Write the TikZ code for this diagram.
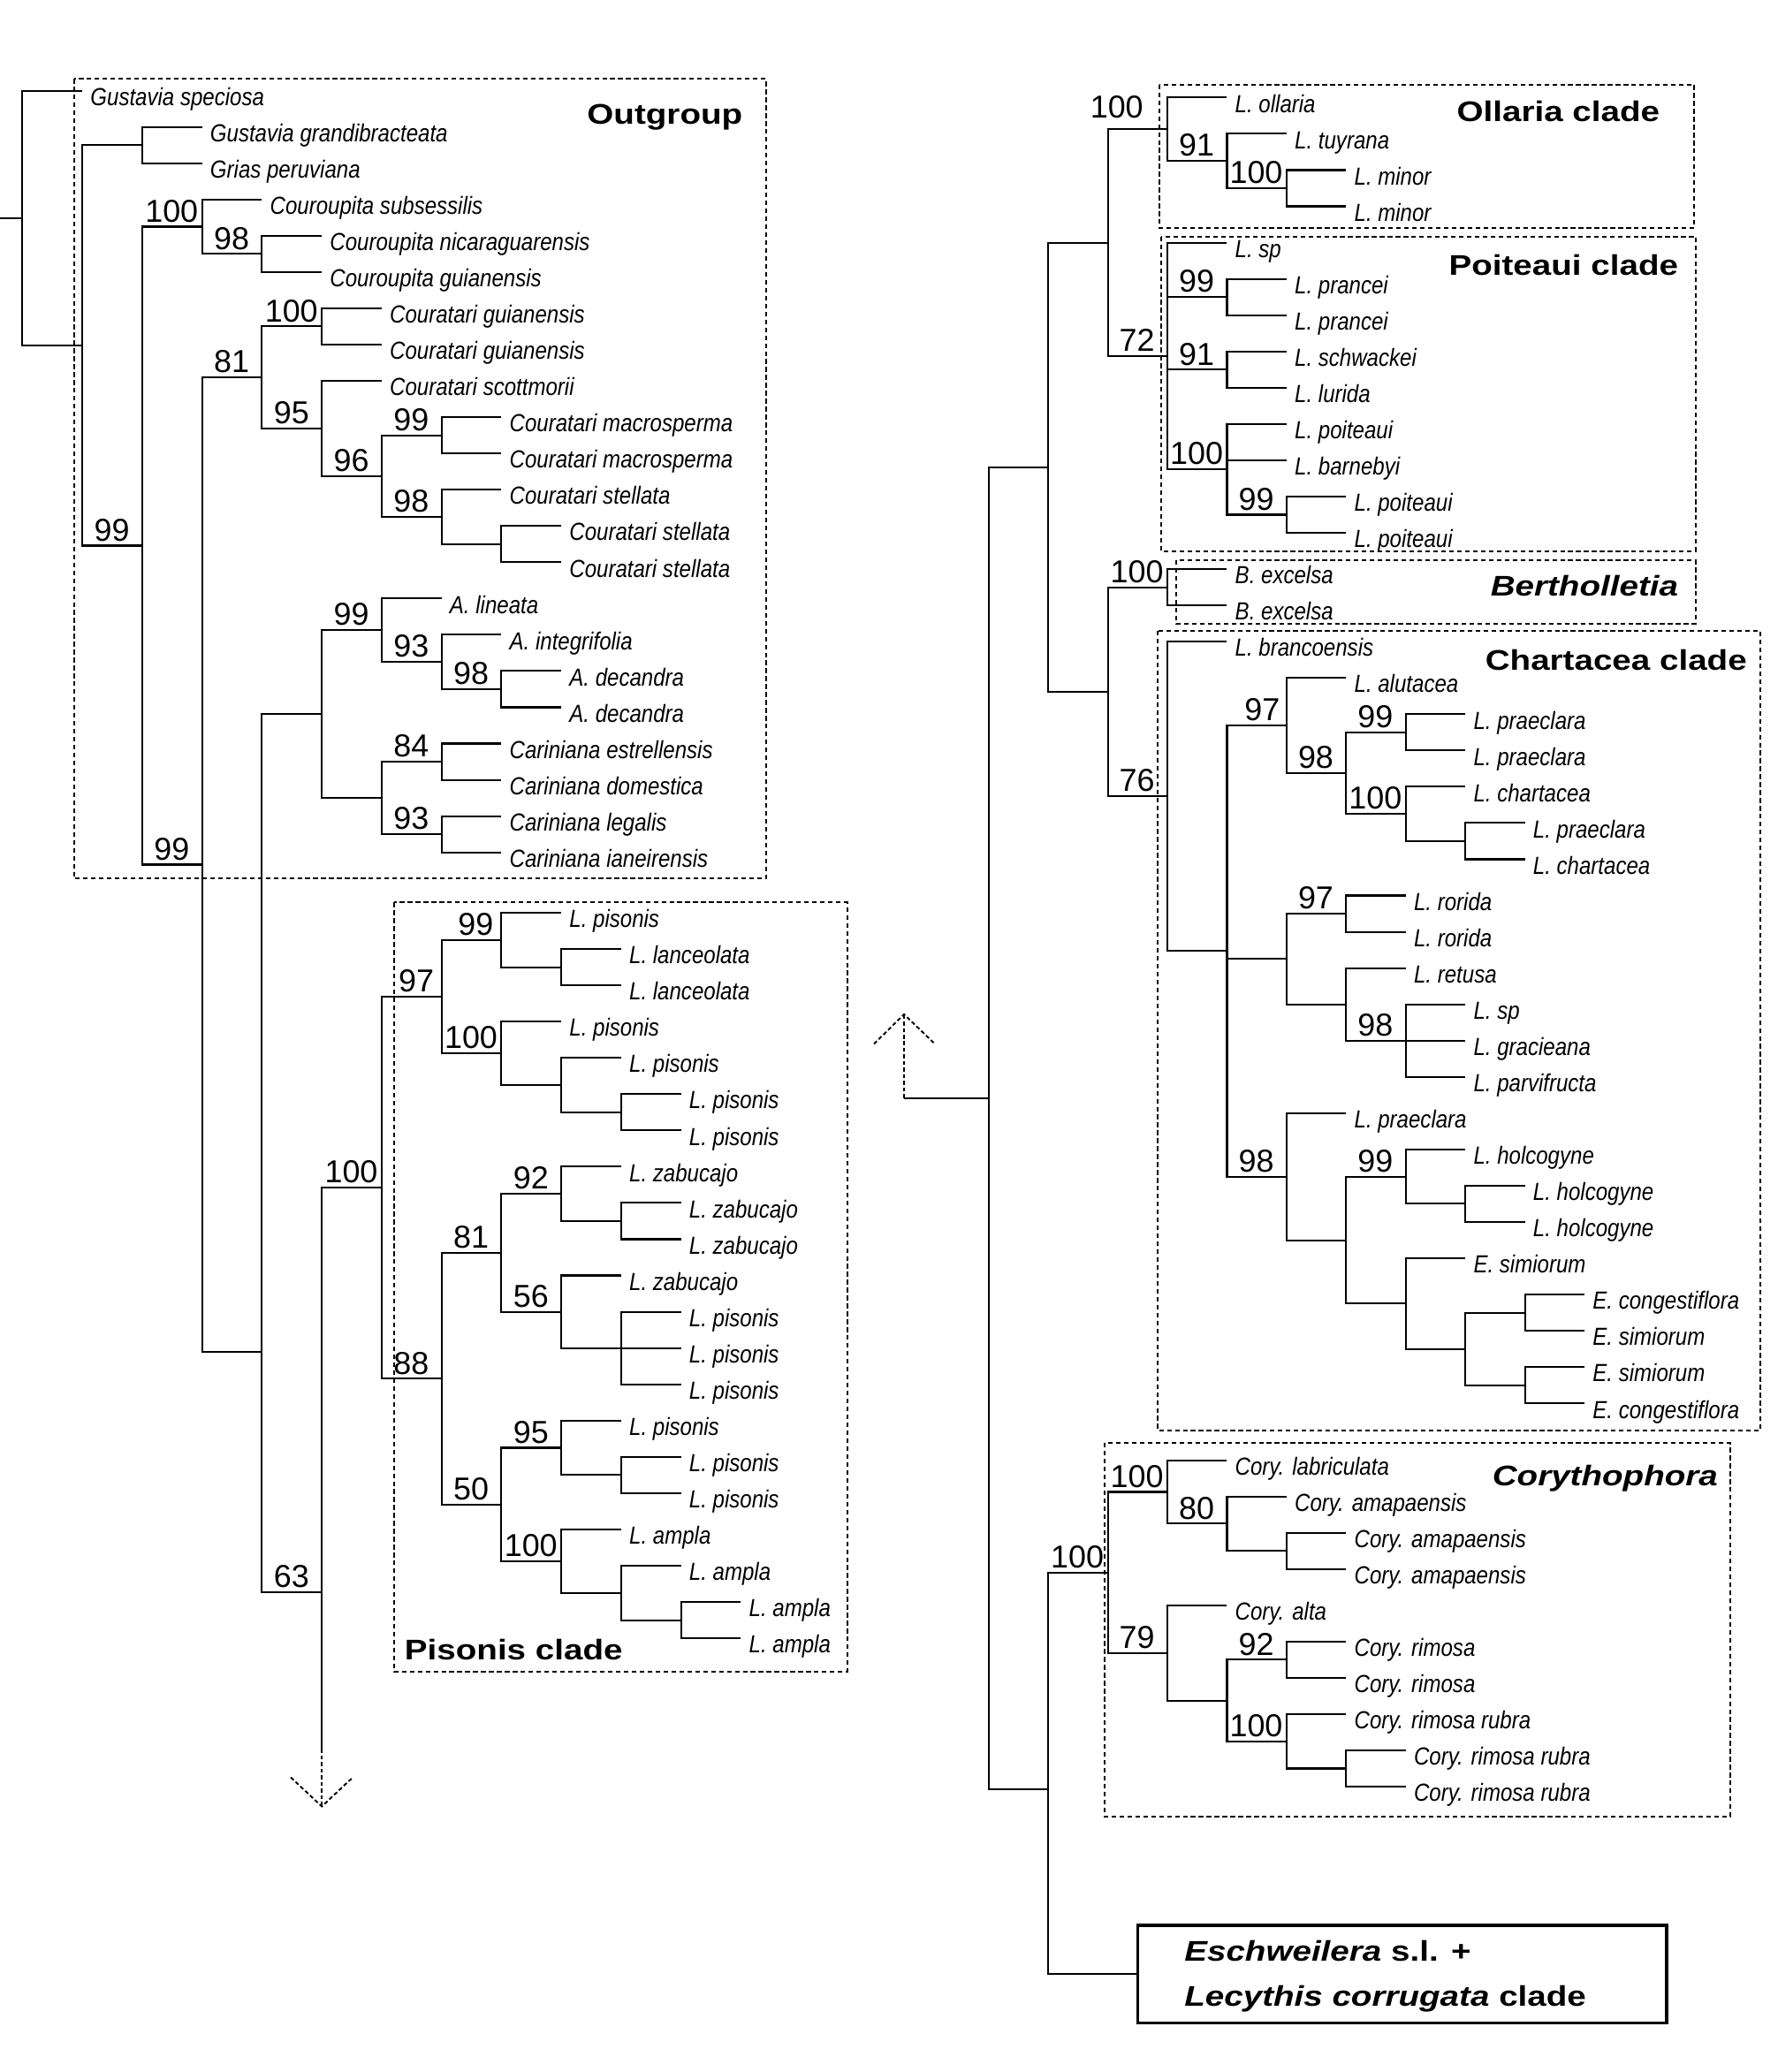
\documentclass[tikz,border=0pt]{standalone}
\usepackage{fontspec}
\usetikzlibrary{calc}
\newfontfamily\labfont[FakeStretch=0.86]{Liberation Sans}
\newfontfamily\numfont{Liberation Sans}
\newfontfamily\ttlfont[FakeStretch=1.2]{Liberation Sans}
\newcommand\tnode[3]{\coordinate (#1) at (#2,#3);}
\newcommand\tleaf[4]{\coordinate (#1) at (#2,#3);\node[leaf] (#1t) at (#2+6,#3+11.2) {#4};}
\newcommand\tedges[2]{\foreach \chd in {#2}{\draw[br] (#1) |- (\chd);}}
\newcommand\tboot[2]{\node[bs] (#1b) at ($(#1)+(-23,-3.5)$) {#2};}
\begin{document}
\begin{tikzpicture}[x=1pt,y=-1pt,
  br/.style={line width=1.4pt},
  dsh/.style={line width=1.3pt,dash pattern=on 3pt off 2pt},
  cbox/.style={line width=1.3pt,dash pattern=on 3.5pt off 2.5pt},
  leaf/.style={font={\labfont\itshape\fontsize{18.7}{20}\selectfont},inner sep=0pt,anchor=base west},
  bs/.style={font={\numfont\fontsize{24}{26}\selectfont},inner sep=0pt,anchor=base},
  ttl/.style={font={\ttlfont\bfseries\fontsize{21.5}{24}\selectfont},inner sep=0pt}]
\fill[white] (0,0) rectangle (1345,1568);
\useasboundingbox (0,0) rectangle (1345,1568);

% ---------- boxes ----------
\draw[cbox] (56,59.7) rectangle (579.6,664.7);
\draw[cbox] (298,683) rectangle (641,1265);
\draw[cbox] (877,64) rectangle (1282,172.5);
\draw[cbox] (878.5,179) rectangle (1283,417);
\draw[cbox] (890,424) rectangle (1283,472);
\draw[cbox] (876,477.5) rectangle (1332,1082.5);
\draw[cbox] (836,1092) rectangle (1309,1375);
\node[draw,line width=2.4pt,minimum width=400pt,minimum height=74pt,inner sep=0pt] (esch) at (1061,1494) {};

% ---------- titles ----------
\node[ttl,anchor=base east] (tOut) at (562,94) {Outgroup};
\node[ttl,anchor=base west] (tPis) at (306,1256) {Pisonis clade};
\node[ttl,anchor=base east] (tOll) at (1256,92) {Ollaria clade};
\node[ttl,anchor=base east] (tPoi) at (1270,208) {Poiteaui clade};
\node[ttl,anchor=base east] (tBer) at (1270,451) {\itshape Bertholletia};
\node[ttl,anchor=base east] (tCha) at (1322,507) {Chartacea clade};
\node[ttl,anchor=base east] (tCor) at (1300,1124) {\itshape Corythophora};
\node[ttl,anchor=base west] (eA) at (896,1484) {\textit{Eschweilera} s.l. +};
\node[ttl,anchor=base west] (eB) at (896,1518) {\textit{Lecythis corrugata} clade};

% ---------- left tree ----------
\tnode{rs}{0}{165}
\tnode{r0}{17}{165}
\tleaf{l0}{62.3}{68.6}{Gustavia speciosa}
\tnode{A}{62.3}{261.4}
\tnode{B}{107.6}{109.8}
\tleaf{l1}{152.9}{96.05}{Gustavia grandibracteata}
\tleaf{l2}{152.9}{123.5}{Grias peruviana}
\tnode{C}{107.6}{412.9}
\tnode{Cou}{152.9}{171.5}
\tleaf{l3}{198.2}{150.95}{Couroupita subsessilis}
\tnode{CouB}{198.2}{192.1}
\tleaf{l4}{243.5}{178.4}{Couroupita nicaraguarensis}
\tleaf{l5}{243.5}{205.85}{Couroupita guianensis}
\tnode{D}{152.9}{654.3}
\tnode{CrA}{198.2}{285.6}
\tnode{CrB}{243.5}{247.0}
\tleaf{l6}{288.8}{233.3}{Couratari guianensis}
\tleaf{l7}{288.8}{260.75}{Couratari guianensis}
\tnode{CrC}{243.5}{324.2}
\tleaf{l8}{288.8}{288.2}{Couratari scottmorii}
\tnode{CrD}{288.8}{360.3}
\tnode{CrE}{334.1}{329.4}
\tleaf{l9}{379.4}{315.65}{Couratari macrosperma}
\tleaf{l10}{379.4}{343.1}{Couratari macrosperma}
\tnode{CrF}{334.1}{391.1}
\tleaf{l11}{379.4}{370.55}{Couratari stellata}
\tnode{CrG}{379.4}{411.7}
\tleaf{l12}{424.7}{398}{Couratari stellata}
\tleaf{l13}{424.7}{425.45}{Couratari stellata}
\tnode{F}{198.2}{1023}
\tnode{E}{243.5}{540.4}
\tnode{AlA}{288.8}{476.9}
\tleaf{l14}{334.1}{452.9}{A. lineata}
\tnode{AlB}{334.1}{500.9}
\tleaf{l15}{379.4}{480.35}{A. integrifolia}
\tnode{AlC}{379.4}{521.5}
\tleaf{l16}{424.7}{507.8}{A. decandra}
\tleaf{l17}{424.7}{535.25}{A. decandra}
\tnode{CaA}{288.8}{603.9}
\tnode{CaB}{334.1}{576.4}
\tleaf{l18}{379.4}{562.7}{Cariniana estrellensis}
\tleaf{l19}{379.4}{590.15}{Cariniana domestica}
\tnode{CaC}{334.1}{631.3}
\tleaf{l20}{379.4}{617.6}{Cariniana legalis}
\tleaf{l21}{379.4}{645.05}{Cariniana ianeirensis}
\tnode{G}{243.5}{1205}
\tnode{H}{288.8}{898.7}
\tnode{PA}{334.1}{754.2}
\tnode{PB}{379.4}{711.3}
\tleaf{p0}{424.7}{690.7}{L. pisonis}
\tnode{PC}{424.7}{731.9}
\tleaf{p1}{470}{718.15}{L. lanceolata}
\tleaf{p2}{470}{745.6}{L. lanceolata}
\tnode{PD}{379.4}{797.1}
\tleaf{p3}{424.7}{773.05}{L. pisonis}
\tnode{PE}{424.7}{821.1}
\tleaf{p4}{470}{800.5}{L. pisonis}
\tnode{PF}{470}{841.7}
\tleaf{p5}{515.3}{827.95}{L. pisonis}
\tleaf{p6}{515.3}{855.4}{L. pisonis}
\tnode{PG}{334.1}{1043.3}
\tnode{PH}{379.4}{948.0}
\tnode{PI}{424.7}{903.4}
\tleaf{p7}{470}{882.85}{L. zabucajo}
\tnode{PJ}{470}{924.0}
\tleaf{p8}{515.3}{910.3}{L. zabucajo}
\tleaf{p9}{515.3}{937.75}{L. zabucajo}
\tnode{PK}{424.7}{992.65}
\tleaf{p10}{470}{965.2}{L. zabucajo}
\tnode{PL}{470}{1020.1}
\tleaf{p11}{515.3}{992.65}{L. pisonis}
\tleaf{p12}{515.3}{1020.1}{L. pisonis}
\tleaf{p13}{515.3}{1047.55}{L. pisonis}
\tnode{PM}{379.4}{1138.5}
\tnode{PN}{424.7}{1095.6}
\tleaf{p14}{470}{1075}{L. pisonis}
\tnode{PO}{470}{1116.2}
\tleaf{p15}{515.3}{1102.45}{L. pisonis}
\tleaf{p16}{515.3}{1129.9}{L. pisonis}
\tnode{PP}{424.7}{1181.4}
\tleaf{p17}{470}{1157.35}{L. ampla}
\tnode{PQ}{470}{1205.4}
\tleaf{p18}{515.3}{1184.8}{L. ampla}
\tnode{PR}{515.3}{1226.0}
\tleaf{p19}{560.6}{1212.25}{L. ampla}
\tleaf{p20}{560.6}{1239.7}{L. ampla}

\draw[br] (rs) -- (r0);
\tedges{r0}{l0,A}
\tedges{A}{B,C}
\tedges{B}{l1,l2}
\tedges{C}{Cou,D}
\tedges{Cou}{l3,CouB}
\tedges{CouB}{l4,l5}
\tedges{D}{CrA,F}
\tedges{CrA}{CrB,CrC}
\tedges{CrB}{l6,l7}
\tedges{CrC}{l8,CrD}
\tedges{CrD}{CrE,CrF}
\tedges{CrE}{l9,l10}
\tedges{CrF}{l11,CrG}
\tedges{CrG}{l12,l13}
\tedges{F}{E,G}
\tedges{E}{AlA,CaA}
\tedges{AlA}{l14,AlB}
\tedges{AlB}{l15,AlC}
\tedges{AlC}{l16,l17}
\tedges{CaA}{CaB,CaC}
\tedges{CaB}{l18,l19}
\tedges{CaC}{l20,l21}
\tedges{G}{H}
\tedges{H}{PA,PG}
\tedges{PA}{PB,PD}
\tedges{PB}{p0,PC}
\tedges{PC}{p1,p2}
\tedges{PD}{p3,PE}
\tedges{PE}{p4,PF}
\tedges{PF}{p5,p6}
\tedges{PG}{PH,PM}
\tedges{PH}{PI,PK}
\tedges{PI}{p7,PJ}
\tedges{PJ}{p8,p9}
\tedges{PK}{p10,PL}
\tedges{PL}{p11,p12,p13}
\tedges{PM}{PN,PP}
\tedges{PN}{p14,PO}
\tedges{PO}{p15,p16}
\tedges{PP}{p17,PQ}
\tedges{PQ}{p18,PR}
\tedges{PR}{p19,p20}

\tboot{Cou}{100}\tboot{CouB}{98}\tboot{CrA}{81}\tboot{CrB}{100}\tboot{CrC}{95}
\tboot{CrE}{99}\tboot{CrD}{96}\tboot{CrF}{98}\tboot{C}{99}\tboot{AlA}{99}
\tboot{AlB}{93}\tboot{AlC}{98}\tboot{CaB}{84}\tboot{CaC}{93}\tboot{D}{99}
\tboot{H}{100}\tboot{PD}{100}\tboot{PI}{92}\tboot{PH}{81}\tboot{PK}{56}
\tboot{PG}{88}\tboot{PN}{95}\tboot{PM}{50}\tboot{PP}{100}\tboot{G}{63}
\node[bs] (PAb) at (315,750.7) {97};
\node[bs] (PBb) at (360,707.8) {99};

% left continuation arrow
\tnode{ga}{243.5}{1323.5}
\tnode{gtp}{243.5}{1367}
\tnode{gl}{220}{1345}
\tnode{gr}{267}{1345}
\draw[br] (G) -- (ga);
\draw[dsh] (ga) -- (gtp);
\draw[dsh] (gl) -- (gtp) -- (gr);

% ---------- right tree ----------
\tnode{R}{748}{831}
\tnode{S}{793.1}{353.5}
\tnode{T}{793.1}{1354}
\tnode{U}{838.2}{183.6}
\tnode{V}{838.2}{523.5}
\tnode{OA}{883.3}{97.8}
\tleaf{k0}{928.4}{73.8}{L. ollaria}
\tnode{OB}{928.4}{121.8}
\tleaf{k1}{973.5}{101.25}{L. tuyrana}
\tnode{OC}{973.5}{142.4}
\tleaf{k2}{1018.6}{128.7}{L. minor}
\tleaf{k3}{1018.6}{156.15}{L. minor}
\tnode{QA}{883.3}{269.4}
\tleaf{k4}{928.4}{183.6}{L. sp}
\tnode{QB}{928.4}{224.8}
\tleaf{k5}{973.5}{211.05}{L. prancei}
\tleaf{k6}{973.5}{238.5}{L. prancei}
\tnode{QC}{928.4}{279.7}
\tleaf{k7}{973.5}{265.95}{L. schwackei}
\tleaf{k8}{973.5}{293.4}{L. lurida}
\tnode{QD}{928.4}{355.2}
\tleaf{k9}{973.5}{320.85}{L. poiteaui}
\tleaf{k10}{973.5}{348.3}{L. barnebyi}
\tnode{QE}{973.5}{389.5}
\tleaf{k11}{1018.6}{375.75}{L. poiteaui}
\tleaf{k12}{1018.6}{403.2}{L. poiteaui}
\tnode{BeA}{883.3}{444.4}
\tleaf{k13}{928.4}{430.65}{B. excelsa}
\tleaf{k14}{928.4}{458.1}{B. excelsa}
\tnode{ChA}{883.3}{602.6}
\tleaf{k15}{928.4}{485.55}{L. brancoensis}
\tnode{W}{928.4}{719.6}
\tnode{XA}{973.5}{549}
\tleaf{k16}{1018.6}{513}{L. alutacea}
\tnode{XB}{1018.6}{585}
\tnode{XC}{1063.7}{554.2}
\tleaf{k17}{1108.8}{540.45}{L. praeclara}
\tleaf{k18}{1108.8}{567.9}{L. praeclara}
\tnode{XD}{1063.7}{615.9}
\tleaf{k19}{1108.8}{595.35}{L. chartacea}
\tnode{XE}{1108.8}{636.5}
\tleaf{k20}{1153.9}{622.8}{L. praeclara}
\tleaf{k21}{1153.9}{650.25}{L. chartacea}
\tnode{YA}{973.5}{725.7}
\tnode{YB}{1018.6}{691.4}
\tleaf{k22}{1063.7}{677.7}{L. rorida}
\tleaf{k23}{1063.7}{705.15}{L. rorida}
\tnode{YC}{1018.6}{760.05}
\tleaf{k24}{1063.7}{732.6}{L. retusa}
\tnode{YD}{1063.7}{787.5}
\tleaf{k25}{1108.8}{760.05}{L. sp}
\tleaf{k26}{1108.8}{787.5}{L. gracieana}
\tleaf{k27}{1108.8}{814.95}{L. parvifructa}
\tnode{ZA}{973.5}{890.4}
\tleaf{k28}{1018.6}{842.4}{L. praeclara}
\tnode{ZB}{1018.6}{938.5}
\tnode{ZC}{1063.7}{890.4}
\tleaf{k29}{1108.8}{869.85}{L. holcogyne}
\tnode{ZD}{1108.8}{911}
\tleaf{k30}{1153.9}{897.3}{L. holcogyne}
\tleaf{k31}{1153.9}{924.75}{L. holcogyne}
\tnode{ZE}{1063.7}{986.5}
\tleaf{k32}{1108.8}{952.2}{E. simiorum}
\tnode{ZF}{1108.8}{1020.8}
\tnode{ZG}{1153.9}{993.4}
\tleaf{k33}{1199}{979.65}{E. congestiflora}
\tleaf{k34}{1199}{1007.1}{E. simiorum}
\tnode{ZH}{1153.9}{1048.3}
\tleaf{k35}{1199}{1034.55}{E. simiorum}
\tleaf{k36}{1199}{1062}{E. congestiflora}
\tnode{CoA}{838.2}{1190}
\tnode{CoB}{883.3}{1129}
\tleaf{m0}{928.4}{1105}{Cory. labriculata}
\tnode{CoC}{928.4}{1153}
\tleaf{m1}{973.5}{1132.45}{Cory. amapaensis}
\tnode{CoD}{973.5}{1173.6}
\tleaf{m2}{1018.6}{1159.9}{Cory. amapaensis}
\tleaf{m3}{1018.6}{1187.35}{Cory. amapaensis}
\tnode{CoE}{883.3}{1250.9}
\tleaf{m4}{928.4}{1214.8}{Cory. alta}
\tnode{CoF}{928.4}{1286.9}
\tnode{CoG}{973.5}{1256}
\tleaf{m5}{1018.6}{1242.25}{Cory. rimosa}
\tleaf{m6}{1018.6}{1269.7}{Cory. rimosa}
\tnode{CoH}{973.5}{1317.7}
\tleaf{m7}{1018.6}{1297.15}{Cory. rimosa rubra}
\tnode{CoI}{1018.6}{1338.3}
\tleaf{m8}{1063.7}{1324.6}{Cory. rimosa rubra}
\tleaf{m9}{1063.7}{1352.05}{Cory. rimosa rubra}

% right continuation arrow
\tnode{ar}{684}{831}
\tnode{atp}{684}{767.6}
\tnode{al}{661.3}{790}
\tnode{arr}{707.4}{790}
\draw[br] (ar) -- (R);
\draw[dsh] (ar) -- (atp);
\draw[dsh] (al) -- (atp) -- (arr);

\tedges{R}{S,T}
\tedges{S}{U,V}
\tedges{U}{OA,QA}
\tedges{OA}{k0,OB}
\tedges{OB}{k1,OC}
\tedges{OC}{k2,k3}
\tedges{QA}{k4,QB,QC,QD}
\tedges{QB}{k5,k6}
\tedges{QC}{k7,k8}
\tedges{QD}{k9,k10,QE}
\tedges{QE}{k11,k12}
\tedges{V}{BeA,ChA}
\tedges{BeA}{k13,k14}
\tedges{ChA}{k15,W}
\tedges{W}{XA,YA,ZA}
\tedges{XA}{k16,XB}
\tedges{XB}{XC,XD}
\tedges{XC}{k17,k18}
\tedges{XD}{k19,XE}
\tedges{XE}{k20,k21}
\tedges{YA}{YB,YC}
\tedges{YB}{k22,k23}
\tedges{YC}{k24,YD}
\tedges{YD}{k25,k26,k27}
\tedges{ZA}{k28,ZB}
\tedges{ZB}{ZC,ZE}
\tedges{ZC}{k29,ZD}
\tedges{ZD}{k30,k31}
\tedges{ZE}{k32,ZF}
\tedges{ZF}{ZG,ZH}
\tedges{ZG}{k33,k34}
\tedges{ZH}{k35,k36}
\tedges{T}{CoA}
\draw[br] (T) |- (esch.west);
\tedges{CoA}{CoB,CoE}
\tedges{CoB}{m0,CoC}
\tedges{CoC}{m1,CoD}
\tedges{CoD}{m2,m3}
\tedges{CoE}{m4,CoF}
\tedges{CoF}{CoG,CoH}
\tedges{CoG}{m5,m6}
\tedges{CoH}{m7,CoI}
\tedges{CoI}{m8,m9}

\node[bs] (OAb) at (845,89) {100};
\tboot{OB}{91}\tboot{OC}{100}\tboot{QA}{72}\tboot{QB}{99}\tboot{QC}{91}
\tboot{QD}{100}\tboot{QE}{99}\tboot{BeA}{100}\tboot{ChA}{76}\tboot{XB}{98}
\tboot{XC}{99}\tboot{XD}{100}\tboot{YB}{97}\tboot{YD}{98}\tboot{ZA}{98}
\tboot{ZC}{99}\tboot{CoA}{100}\tboot{CoB}{100}\tboot{CoC}{80}\tboot{CoE}{79}
\tboot{CoG}{92}\tboot{CoH}{100}
\node[bs] (XAb) at (955,545.5) {97};
\end{tikzpicture}
\end{document}
